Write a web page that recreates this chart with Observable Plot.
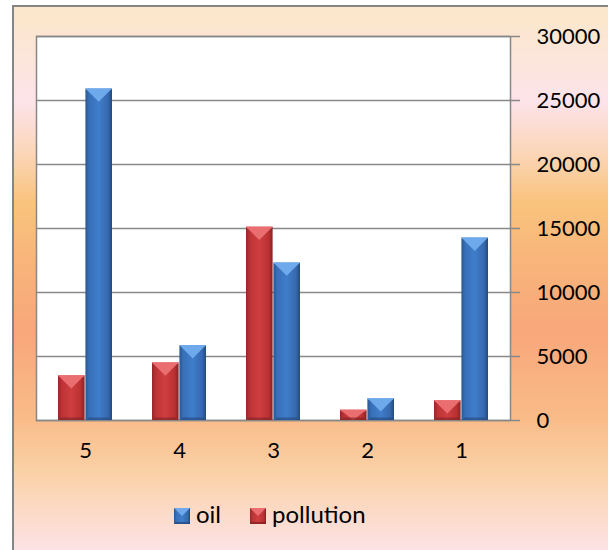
<!DOCTYPE html>
<html>
<head>
<meta charset="utf-8">
<script src="https://cdn.jsdelivr.net/npm/d3@7"></script>
<script src="https://cdn.jsdelivr.net/npm/@observablehq/plot@0.6"></script>
<style>
  html, body { margin: 0; padding: 0; background: #ffffff; }
  body { width: 608px; height: 550px; overflow: hidden; position: relative; font-family: Lato, "Open Sans", sans-serif; }
  #panel {
    position: absolute; left: 12px; top: 5px; width: 620px; height: 570px;
    border-left: 2px solid #858585; border-top: 2px solid #858585;
    background: linear-gradient(to bottom,
      #fbe7c8 0px, #fce5d8 45px, #fde3ea 95px, #fbd6b8 145px, #f9c37d 195px,
      #f8b37a 260px, #f8a77b 325px, #f9bb88 410px, #fad1a6 465px, #fde3e8 545px);
  }
  #chart { position: absolute; left: 0; top: 0; }
  #chart g[aria-label^="y-axis"] path,
  #chart g[aria-label^="y-axis"] line { stroke: #888888; stroke-width: 1.5; stroke-opacity: 1; }
  #legend {
    position: absolute; left: 174px; top: 500px; display: flex; align-items: center;
    font-family: Lato, sans-serif; font-size: 24px; color: #000; line-height: 28px;
  }
  #legend .item { display: flex; align-items: center; }
  #legend .item svg { margin-right: 6px; margin-top: 3px; }
  #legend .item + .item { margin-left: 29px; }
</style>
</head>
<body>
<div id="panel"></div>
<svg width="0" height="0" style="position:absolute">
  <defs>
    <linearGradient id="oilFill" x1="0" x2="1" y1="0" y2="0">
      <stop offset="0" stop-color="#2a5893"/>
      <stop offset="0.15" stop-color="#3870b9"/>
      <stop offset="0.5" stop-color="#3f7dcb"/>
      <stop offset="0.85" stop-color="#3769ae"/>
      <stop offset="1" stop-color="#24497c"/>
    </linearGradient>
    <linearGradient id="pollutionFill" x1="0" x2="1" y1="0" y2="0">
      <stop offset="0" stop-color="#952729"/>
      <stop offset="0.15" stop-color="#bd3436"/>
      <stop offset="0.5" stop-color="#cf3e40"/>
      <stop offset="0.85" stop-color="#b93133"/>
      <stop offset="1" stop-color="#862224"/>
    </linearGradient>
  </defs>
</svg>
<div id="chart"></div>
<div id="legend"></div>
<script>
// Categories along the bottom, in drawing order
const categories = ["5", "4", "3", "2", "1"];
// Series values, one per category
const oil = [25900, 5850, 12300, 1700, 14250];
const pollution = [3500, 4500, 15100, 800, 1550];
// Value axis ticks
const yTicks = [0, 5000, 10000, 15000, 20000, 25000, 30000];

const seriesNames = ["oil", "pollution"];
const bevel = {
  oil: { top: "#6ea9ec", edge: "#9cc6f4", bottom: "#22467a" },
  pollution: { top: "#ea6e70", edge: "#f29a9b", bottom: "#7e1f21" }
};

const rows = categories.map((c, i) => ({ category: c, oil: oil[i], pollution: pollution[i] }));

const chart = Plot.plot({
  width: 608,
  height: 480,
  marginLeft: 36,
  marginRight: 98,
  marginTop: 36,
  marginBottom: 60,
  style: { background: "transparent", fontFamily: "Lato, sans-serif", fontSize: "22px", color: "#000", overflow: "visible" },
  x: { domain: categories, padding: 0, label: null, tickSize: 0, tickPadding: 22 },
  y: { domain: [0, 30000], ticks: yTicks, axis: "right", tickSize: 9, tickPadding: 17, tickFormat: d3.format("d"), label: null },
  marks: [
    Plot.frame({ fill: "white", stroke: "none" }),
    Plot.ruleY(yTicks, { stroke: "#888888", strokeWidth: 1.5 }),
    Plot.frame({ stroke: "#888888", strokeWidth: 1.5 }),
    Plot.barY(rows, { x: "category", y: "pollution", fill: "url(#pollutionFill)", insetLeft: 20, insetRight: 47.4 }),
    Plot.barY(rows, { x: "category", y: "oil", fill: "url(#oilFill)", insetLeft: 47.4, insetRight: 20 })
  ]
});
document.getElementById("chart").appendChild(chart);

// Bevelled top and darker foot on every bar, in the order the bar marks were drawn
const svgNS = "http://www.w3.org/2000/svg";
const barGroups = chart.querySelectorAll('g[aria-label="bar"]');
const groupSeries = ["pollution", "oil"];
barGroups.forEach((g, gi) => {
  const colours = bevel[groupSeries[gi]];
  g.querySelectorAll("rect").forEach(r => {
    const x = +r.getAttribute("x"), y = +r.getAttribute("y");
    const w = +r.getAttribute("width"), h = +r.getAttribute("height");
    const d = Math.min(w / 2, h);
    const parent = r.parentNode;
    const add = (pts, fill, opacity) => {
      const p = document.createElementNS(svgNS, "polygon");
      p.setAttribute("points", pts.map(q => q.join(",")).join(" "));
      p.setAttribute("fill", fill);
      if (opacity != null) p.setAttribute("fill-opacity", opacity);
      parent.insertBefore(p, r.nextSibling);
    };
    add([[x + 1.5, y + h], [x + w - 1.5, y + h], [x + w - 3, y + h - 2.5], [x + 3, y + h - 2.5]], colours.bottom, 0.6);
    add([[x, y], [x + w, y], [x + w / 2, y + d]], colours.top);
    add([[x, y], [x + w, y], [x + w - 1.5, y + 1.5], [x + 1.5, y + 1.5]], colours.edge);
  });
});

// Legend
const legend = document.getElementById("legend");
seriesNames.forEach(name => {
  const item = document.createElement("div");
  item.className = "item";
  const colours = bevel[name];
  item.innerHTML =
    `<svg width="16" height="16" viewBox="0 0 16 16">
       <rect x="0" y="0" width="16" height="16" fill="url(#${name}Fill)"/>
       <polygon points="0,0 16,0 8,8" fill="${colours.top}"/>
       <polygon points="0,16 16,16 14,14 2,14" fill="${colours.bottom}" fill-opacity="0.7"/>
     </svg><span>${name}</span>`;
  legend.appendChild(item);
});
</script>
</body>
</html>
